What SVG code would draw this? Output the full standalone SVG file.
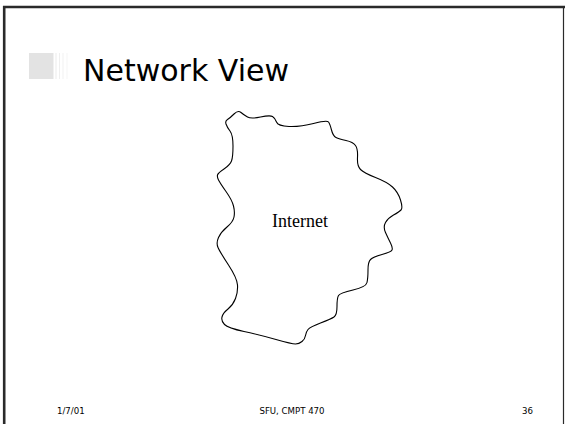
<svg xmlns="http://www.w3.org/2000/svg" width="565" height="424" viewBox="0 0 565 424">
  <style>
    .frame { fill: none; stroke: #2a2a2a; }
    .title { font-family: "DejaVu Sans", Verdana, sans-serif; font-size: 31px; fill: #000; }
    .foot { font-family: "DejaVu Sans", Verdana, sans-serif; font-size: 8.6px; fill: #000; }
    .cloud { fill: #fff; stroke: #000; stroke-width: 1.1; stroke-linejoin: round; }
    .label { font-family: "Liberation Serif", "Times New Roman", serif; font-size: 18px; fill: #000; }
  </style>
  <rect width="565" height="424" fill="#fff"/>
  <g id="frame">
    <path class="frame" d="M4.2 424 V7 H565" stroke-width="2.6"/>
    <path class="frame" d="M563.5 7 V424" stroke-width="1.2" stroke="#444"/>
  </g>
  <g id="title">
    <rect x="29" y="53" width="24.5" height="26" fill="#e3e3e3"/>
    <rect x="55.5" y="53" width="1" height="26" fill="#ececec"/>
    <rect x="59" y="53" width="1" height="26" fill="#efefef"/>
    <rect x="62.5" y="53" width="1" height="26" fill="#f2f2f2"/>
    <rect x="66.5" y="53" width="1" height="26" fill="#f5f5f5"/>
    <text class="title" x="83" y="81" textLength="206" lengthAdjust="spacingAndGlyphs">Network View</text>
  </g>
  <g id="internet">
    <path class="cloud" d="M226 124 Q225 121 227.5 119.5 Q230 118 234 114 Q238 110 241 112.5 Q244 115 247.5 117 Q251 119 260.5 117 Q270 115 272.5 116.5 Q275 118 276.5 122 Q278 126 289 126.5 Q300 127 313.5 123.5 Q327 120 328.5 122 Q330 124 331.5 130 Q333 136 336 137.5 Q339 139 346 140.5 Q353 142 355.5 145.5 Q358 149 357.5 157.5 Q357 166 360.5 169.5 Q364 173 375.5 177.5 Q387 182 392.5 187 Q398 192 400.5 200 Q403 208 401 210 Q399 212 393.5 215 Q388 218 385.5 222.5 Q383 227 385.5 232.5 Q388 238 390.5 243 Q393 248 392 250 Q391 252 382 254.5 Q373 257 370.5 259.5 Q368 262 368 270 Q368 278 367 282.5 Q366 287 353 290 Q340 293 338.5 295.5 Q337 298 337 306.5 Q337 315 334 317 Q331 319 320.5 323 Q310 327 308 329.5 Q306 332 305.5 335.5 Q305 339 302 341.5 Q299 344 295.5 344 Q292 344 276 339.5 Q260 335 244 331.5 Q228 328 224.5 324.5 Q221 321 222 317 Q223 313 228 309 Q233 305 235.5 298.5 Q238 292 237.5 285 Q237 278 228.5 265 Q220 252 218 247.5 Q216 243 218.5 237.5 Q221 232 227 227 Q233 222 234 217 Q235 212 233.5 206 Q232 200 226 191.5 Q220 183 218.5 180 Q217 177 217.5 175 Q218 173 224 169 Q230 165 231.5 161 Q233 157 233 146 Q233 135 230 131 Q227 127 226 124 Z"/>
    <text class="label" x="300" y="227" text-anchor="middle">Internet</text>
  </g>
  <g id="footer">
    <text class="foot" x="57" y="414">1/7/01</text>
    <text class="foot" x="292" y="414" text-anchor="middle">SFU, CMPT 470</text>
    <text class="foot" x="533" y="414" text-anchor="end">36</text>
  </g>
  <g id="connectors"/>
</svg>
